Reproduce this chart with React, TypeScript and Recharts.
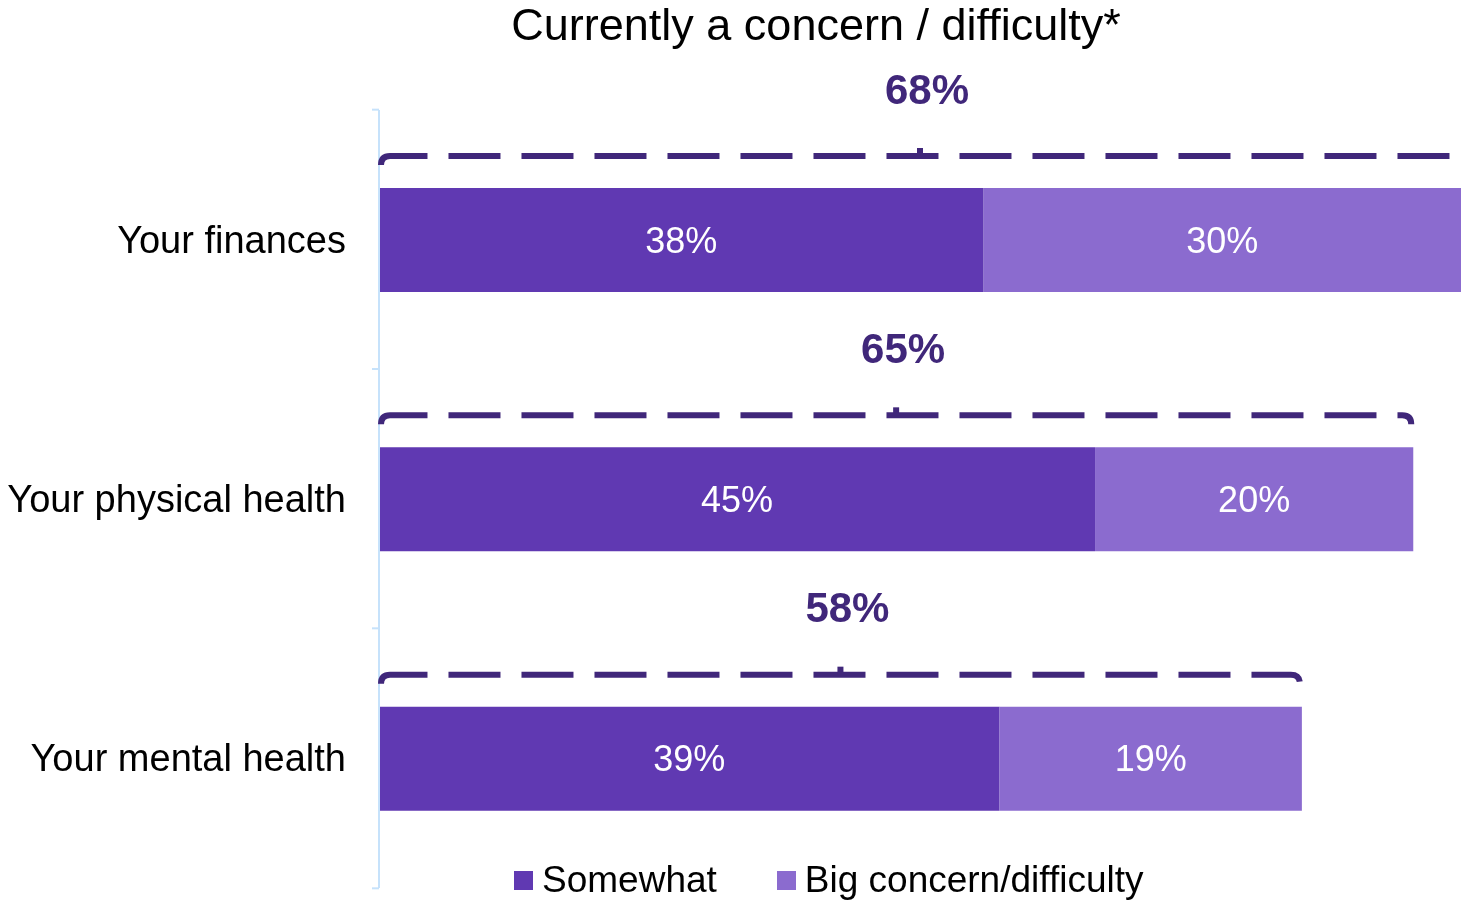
import React from "react";
import { BarChart, Bar, XAxis, YAxis, LabelList } from "recharts";

const categories = ["Your finances", "Your physical health", "Your mental health"];
const somewhat = [38, 45, 39];
const bigConcern = [30, 20, 19];
const totals = [68, 65, 58];
const seriesNames = ["Somewhat", "Big concern/difficulty"];
const colors = ["#6039B2", "#8B6BCF"];

const FONT = '"Liberation Sans", Arial, sans-serif';
const DARK = "#40277A";
const AXIS_W = 379;

const data = categories.map((name, i) => ({
  name,
  somewhat: somewhat[i],
  big: bigConcern[i],
  total: totals[i],
}));

// category label + small tick marks at band edges
const CategoryTick = (props: any) => {
  const { y, payload } = props;
  const half = 130;
  return (
    <g>
      <text x={AXIS_W - 33} y={y} textAnchor="end" dominantBaseline="central" fontSize={38} fill="#000" fontFamily={FONT}>
        {payload.value}
      </text>
      <line x1={AXIS_W - 7} x2={AXIS_W} y1={y - half} y2={y - half} stroke="#C6E2FB" strokeWidth={2} />
      {payload.index === categories.length - 1 && (
        <line x1={AXIS_W - 7} x2={AXIS_W} y1={y + half} y2={y + half} stroke="#C6E2FB" strokeWidth={2} />
      )}
    </g>
  );
};

// dashed bracket over the whole stacked bar, with total on top
const TotalBracket = (props: any) => {
  const { x, y, width, index } = props;
  const full = (width * totals[index]) / somewhat[index];
  const x0 = x + 2;
  const x1 = x + full - 2;
  const by = y - 32;
  const cx = x + full / 2;
  return (
    <g>
      <path
        d={`M ${x0} ${by + 9} Q ${x0} ${by} ${x0 + 9} ${by} L ${x1 - 9} ${by} Q ${x1} ${by} ${x1} ${by + 9}`}
        fill="none"
        stroke={DARK}
        strokeWidth={6}
        strokeDasharray="52 21"
      />
      <rect x={cx - 3} y={by - 8} width={6} height={8} fill={DARK} />
      <text x={cx + 7} y={y - 99} textAnchor="middle" dominantBaseline="central" fontSize={42} fontWeight="bold" fill={DARK} fontFamily={FONT}>
        {totals[index]}%
      </text>
    </g>
  );
};

export default function App() {
  return (
    <div style={{ position: "fixed", left: 0, top: 0, width: 1461, height: 903, background: "#fff", fontFamily: FONT }}>
      <div
        style={{
          position: "absolute",
          top: -1,
          left: 0,
          width: 1632,
          textAlign: "center",
          fontSize: 45,
          color: "#000",
        }}
      >
        Currently a concern / difficulty*
      </div>
      <BarChart
        width={1461}
        height={903}
        data={data}
        layout="vertical"
        margin={{ top: 110, right: 0, bottom: 15, left: 0 }}
        barCategoryGap={0}
      >
        <XAxis type="number" domain={[0, 68]} hide />
        <YAxis
          type="category"
          dataKey="name"
          width={AXIS_W}
          axisLine={{ stroke: "#C6E2FB", strokeWidth: 2 }}
          tickLine={false}
          tick={<CategoryTick />}
          interval={0}
        />
        <Bar dataKey="somewhat" name={seriesNames[0]} stackId="a" fill={colors[0]} barSize={104} isAnimationActive={false}>
          <LabelList dataKey="somewhat" position="center" fill="#fff" fontSize={36} fontFamily={FONT} formatter={(v: any) => `${v}%`} />
          <LabelList dataKey="somewhat" content={<TotalBracket />} />
        </Bar>
        <Bar dataKey="big" name={seriesNames[1]} stackId="a" fill={colors[1]} barSize={104} isAnimationActive={false}>
          <LabelList dataKey="big" position="center" fill="#fff" fontSize={36} fontFamily={FONT} formatter={(v: any) => `${v}%`} />
        </Bar>
      </BarChart>
      <div
        style={{
          position: "absolute",
          top: 859,
          left: 514,
          display: "flex",
          alignItems: "center",
          fontSize: 37,
          color: "#000",
          whiteSpace: "nowrap",
        }}
      >
        {seriesNames.map((n, i) => (
          <div key={n} style={{ display: "flex", alignItems: "center", marginRight: i === 0 ? 60 : 0 }}>
            <span style={{ width: 19, height: 19, background: colors[i], display: "inline-block", marginRight: 9 }} />
            <span>{n}</span>
          </div>
        ))}
      </div>
    </div>
  );
}
